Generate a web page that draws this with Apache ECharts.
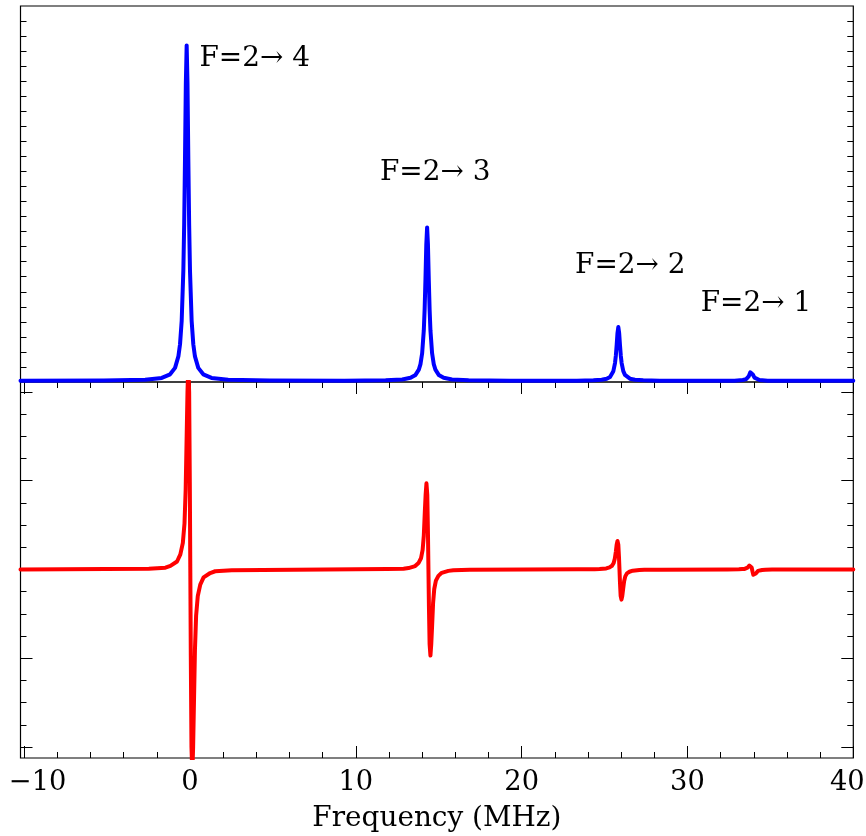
<!DOCTYPE html>
<html><head><meta charset="utf-8">
<script src="https://cdn.jsdelivr.net/npm/echarts@6/dist/echarts.min.js"></script>
<style>html,body{margin:0;padding:0;background:#fff}#c{width:866px;height:836px}</style>
</head><body><div id="c"></div>
<script>
// ---- data ----
const absorptionFreq = [
  -10.22,
  -5.2, -2.7, -1.7, -1.2, -0.9, -0.7, -0.6, -0.5, -0.4, -0.35, -0.3, -0.25, -0.2, -0.15, -0.1, -0.05, 0.0, 0.1, 0.2, 0.3, 0.5, 0.8, 1.3, 2.3, 4.8,
  9.3, 11.8, 12.8, 13.3, 13.6, 13.8, 13.9, 14.0, 14.1, 14.15, 14.2, 14.25, 14.3, 14.35, 14.4, 14.45, 14.5, 14.6, 14.7, 14.8, 15.0, 15.3, 15.8, 16.8, 19.3,
  21.3, 23.33, 24.33, 24.83, 25.13, 25.33, 25.43, 25.53, 25.63, 25.68, 25.73, 25.78, 25.83, 25.88, 25.93, 25.98, 26.03, 26.13, 26.23, 26.33, 26.53, 26.83, 27.33, 28.33, 30.3,
  31.84, 32.84, 33.34, 33.54, 33.64, 33.69, 33.74, 33.79, 33.84, 33.89, 33.94, 33.99, 34.04, 34.14, 34.34, 34.84, 35.84, 40
];
const absorptionSignal = [
  0.08,
  0.10, 0.15, 0.27, 0.51, 0.94, 1.70, 2.51, 4.07, 7.42, 10.47, 14.84, 19.86, 22.38, 19.86, 14.84, 10.47, 7.42, 4.07, 2.51, 1.70, 0.94, 0.51, 0.27, 0.15, 0.10,
  0.09, 0.11, 0.17, 0.28, 0.47, 0.82, 1.19, 1.91, 3.44, 4.83, 6.83, 9.13, 10.28, 9.13, 6.83, 4.83, 3.44, 1.91, 1.19, 0.82, 0.47, 0.28, 0.17, 0.11, 0.09,
  0.08, 0.09, 0.11, 0.15, 0.22, 0.34, 0.47, 0.72, 1.26, 1.75, 2.45, 3.26, 3.66, 3.26, 2.45, 1.75, 1.26, 0.72, 0.47, 0.34, 0.22, 0.15, 0.11, 0.09, 0.08,
  0.08, 0.09, 0.13, 0.19, 0.29, 0.37, 0.50, 0.64, 0.71, 0.64, 0.50, 0.37, 0.29, 0.19, 0.13, 0.09, 0.08, 0.08
];
const dispersionFreq = [
  -10.22,
  -2.48, -1.48, -1.18, -0.78, -0.58, -0.43, -0.33, -0.26, -0.2, -0.15, -0.1, -0.05, -0.01, 0.02, 0.05, 0.09, 0.14, 0.19, 0.24, 0.30, 0.37, 0.47, 0.62, 0.82, 1.22, 1.52, 2.52,
  11.88, 12.88, 13.18, 13.58, 13.78, 13.93, 14.03, 14.10, 14.16, 14.21, 14.26, 14.31, 14.35, 14.38, 14.41, 14.45, 14.50, 14.55, 14.60, 14.66, 14.73, 14.83, 14.98, 15.18, 15.58, 15.88, 16.88,
  23.4, 24.4, 24.7, 25.1, 25.3, 25.45, 25.55, 25.62, 25.68, 25.73, 25.78, 25.83, 25.87, 25.9, 25.93, 25.97, 26.02, 26.07, 26.12, 26.18, 26.25, 26.35, 26.5, 26.7, 27.1, 27.4, 28.4,
  32.4, 33.1, 33.3, 33.45, 33.55, 33.62, 33.68, 33.73, 33.78, 33.83, 33.87, 33.9, 33.93, 33.97, 34.02, 34.07, 34.12, 34.18, 34.25, 34.35, 34.5, 34.7, 35.1, 35.4,
  40
];
const dispersionSignal = [
  0,
  0.004, 0.010, 0.020, 0.045, 0.085, 0.15, 0.26, 0.45, 0.75, 1.0, 1.15, 1.0, 0.49, 0, -0.49, -1.0, -1.15, -1.0, -0.75, -0.45, -0.26, -0.15, -0.085, -0.045, -0.020, -0.010, -0.004,
  0.002, 0.004, 0.008, 0.019, 0.036, 0.063, 0.11, 0.19, 0.32, 0.42, 0.485, 0.42, 0.21, 0, -0.21, -0.42, -0.485, -0.42, -0.32, -0.19, -0.11, -0.063, -0.036, -0.019, -0.008, -0.004, -0.002,
  0.001, 0.0015, 0.003, 0.006, 0.012, 0.021, 0.037, 0.062, 0.10, 0.14, 0.16, 0.14, 0.07, 0, -0.073, -0.148, -0.17, -0.148, -0.11, -0.066, -0.039, -0.022, -0.013, -0.007, -0.003, -0.0015, -0.001,
  0, 0.001, 0.002, 0.003, 0.006, 0.010, 0.016, 0.022, 0.025, 0.022, 0.011, 0, -0.015, -0.030, -0.035, -0.030, -0.023, -0.014, -0.008, -0.005, -0.003, -0.0015, -0.0005, 0,
  0
];
const freqTickValues = [-10, 0, 10, 20, 30, 40];
const freqTickLabels = ['−10', '0', '10', '20', '30', '40'];
const freqMinorTicks = [-8, -6, -4, -2, 2, 4, 6, 8, 12, 14, 16, 18, 22, 24, 26, 28, 32, 34, 36, 38];
const absorptionTicks = [1, 2, 3, 4, 5, 6, 7, 8, 9, 10, 11, 12, 13, 14, 15, 16, 17, 18, 19, 20, 21, 22, 23, 24];
const dispersionMajorTicks = [-1, -0.5, 0, 0.5, 1];
const dispersionMinorTicks = [-0.875, -0.75, -0.625, -0.375, -0.25, -0.125, 0.125, 0.25, 0.375, 0.625, 0.75, 0.875];
const transitionLabels = ['F=2→ 4', 'F=2→ 3', 'F=2→ 2', 'F=2→ 1'];
const transitionLabelFreq = [0.57, 11.46, 23.22, 30.8];
const transitionLabelLevel = [21.48, 13.9, 7.71, 5.22];
const freqRange = [-10.22, 40];
const absorptionRange = [0, 25];
const dispersionRange = [-1.062, 1.056];

// ---- chart ----
const FONT = 'DejaVu Serif';
const FS_TICK = 27.3;
const FS_TEXT = 27.9;
const chart = echarts.init(document.getElementById('c'), null, {renderer: 'canvas'});
const zip = (a, b) => a.map((v, i) => [v, b[i]]);

function tickAxis(base, values, len, extra) {
  return Object.assign({
    type: 'value', show: true,
    axisLine: {show: false, onZero: false},
    axisTick: {show: true, inside: true, length: len, customValues: values, lineStyle: {color: '#000', width: 1}},
    axisLabel: {show: false},
    splitLine: {show: false}
  }, base, extra || {});
}

const xb = {min: freqRange[0], max: freqRange[1]};
const xAxis = [
  Object.assign({gridIndex: 0, position: 'bottom', type: 'value', axisLine: {show: false, onZero: false}, axisTick: {show: false}, axisLabel: {show: false}, splitLine: {show: false}}, xb),
  tickAxis(Object.assign({gridIndex: 1, position: 'bottom'}, xb), freqTickValues, 12, {
    axisLabel: {
      show: true, customValues: freqTickValues, margin: 11, showMinLabel: true, showMaxLabel: true,
      fontFamily: FONT, fontSize: FS_TICK, color: '#000',
      formatter: function (v) {
        const i = freqTickValues.indexOf(v);
        const t = i >= 0 ? freqTickLabels[i] : String(v);
        if (i === 0) return '{first|' + t + '}';
        if (i === freqTickValues.length - 1) return '{last|' + t + '}';
        return t;
      },
      rich: {
        first: {fontFamily: FONT, fontSize: FS_TICK, color: '#000', padding: [0, 0, 0, 27]},
        last: {fontFamily: FONT, fontSize: FS_TICK, color: '#000', padding: [0, 12, 0, 0]}
      }
    },
    name: 'Frequency (MHz)', nameLocation: 'middle', nameGap: 47,
    nameTextStyle: {fontFamily: FONT, fontSize: FS_TEXT, color: '#000'}
  }),
  tickAxis(Object.assign({gridIndex: 1, position: 'bottom'}, xb), freqMinorTicks, 6),
  tickAxis(Object.assign({gridIndex: 1, position: 'top'}, xb), freqTickValues, 12),
  tickAxis(Object.assign({gridIndex: 1, position: 'top'}, xb), freqMinorTicks, 6)
];
const ya = {min: absorptionRange[0], max: absorptionRange[1]};
const yd = {min: dispersionRange[0], max: dispersionRange[1]};
const yAxis = [
  tickAxis(Object.assign({gridIndex: 0, position: 'left'}, ya), absorptionTicks, 6),
  tickAxis(Object.assign({gridIndex: 0, position: 'right'}, ya), absorptionTicks, 6),
  tickAxis(Object.assign({gridIndex: 1, position: 'left'}, yd), dispersionMajorTicks, 12),
  tickAxis(Object.assign({gridIndex: 1, position: 'left'}, yd), dispersionMinorTicks, 6),
  tickAxis(Object.assign({gridIndex: 1, position: 'right'}, yd), dispersionMajorTicks, 12),
  tickAxis(Object.assign({gridIndex: 1, position: 'right'}, yd), dispersionMinorTicks, 6)
];

chart.setOption({
  animation: false,
  backgroundColor: '#fff',
  grid: [
    {left: 20.5, right: 12.7, top: 6, height: 376, show: true, borderColor: '#000', borderWidth: 1.2, backgroundColor: 'transparent', containLabel: false, outerBoundsMode: 'none'},
    {left: 20.5, right: 12.7, top: 382, height: 376, show: true, borderColor: '#000', borderWidth: 1.2, backgroundColor: 'transparent', containLabel: false, outerBoundsMode: 'none'}
  ],
  xAxis: xAxis,
  yAxis: yAxis,
  series: [
    {
      type: 'line', xAxisIndex: 0, yAxisIndex: 0, data: zip(absorptionFreq, absorptionSignal),
      showSymbol: false, symbol: 'none', clip: true,
      lineStyle: {color: '#0000ff', width: 4, join: 'round', cap: 'round'}, z: 3
    },
    {
      type: 'line', xAxisIndex: 1, yAxisIndex: 2, data: zip(dispersionFreq, dispersionSignal),
      showSymbol: false, symbol: 'none', clip: true,
      lineStyle: {color: '#ff0000', width: 4, join: 'round', cap: 'round'}, z: 3
    },
    {
      type: 'scatter', xAxisIndex: 0, yAxisIndex: 0, data: zip(transitionLabelFreq, transitionLabelLevel),
      symbolSize: 1, itemStyle: {color: 'rgba(0,0,0,0)', opacity: 1}, silent: true,
      label: {
        show: true, position: 'inside', align: 'left', verticalAlign: 'middle',
        fontFamily: FONT, fontSize: FS_TEXT, color: '#000', opacity: 1, textBorderWidth: 0,
        formatter: function (p) { return transitionLabels[p.dataIndex]; }
      }
    }
  ]
});
</script></body></html>
